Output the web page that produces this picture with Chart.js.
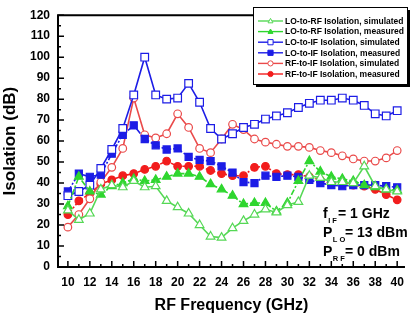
<!DOCTYPE html>
<html>
<head>
<meta charset="utf-8">
<script src="https://cdn.jsdelivr.net/npm/chart.js@4.4.1/dist/chart.umd.min.js"></script>
<style>
  html, body { margin: 0; padding: 0; background: #fff; }
  #wrap { width: 412px; height: 320px; position: relative; }
</style>
</head>
<body>
<div id="wrap"><canvas id="chart"></canvas></div>
<script>
const FREQ = [10,11,12,13,14,15,16,17,18,19,20,21,22,23,24,25,26,27,28,29,30,31,32,33,34,35,36,37,38,39,40];
const X_TICKS = [10,12,14,16,18,20,22,24,26,28,30,32,34,36,38,40];

const LO_RF_SIM  = [27, 22.5, 25.5, 37, 39, 38, 41, 38, 38.5, 31.5, 28.5, 25.5, 20, 14.5, 14, 18.5, 22, 25, 27.5, 26, 29.5, 31, 43.5, 42.5, 40.5, 40.5, 40, 48, 38.5, 37, 36];
const LO_RF_MEAS = [29, 43, 36, 34.5, 38.5, 40, 42, 41, 41.5, 43, 44.5, 44.5, 43, 39.5, 37, 34, 30, 30.5, 30.5, 26.5, 30.5, 41, 50.5, 45.5, 43, 42, 41, 39, 38, 37, 36.5];
const LO_IF_SIM  = [34, 36, 39, 47, 56, 66, 82, 100, 82, 80, 80.5, 87.5, 78.5, 66, 61, 63.5, 66.5, 68, 70.5, 72, 73.5, 76, 78, 79.5, 79.5, 80.5, 79.5, 77, 73, 72, 74.5];
const LO_IF_MEAS = [36, 44.5, 43, 44, 54, 63, 67.5, 61, 58, 56, 56.5, 52.5, 51, 50.5, 48, 45, 40.5, 40, 43.5, 43, 43.5, 43, 41.5, 40, 39, 38.5, 39, 39, 39, 38.5, 38];
const RF_IF_SIM  = [19, 25, 32.5, 40.5, 47.5, 56.5, 80.5, 63, 61.5, 63.5, 73, 66.5, 56.5, 54.5, 61, 68, 65.5, 61, 59.5, 58.5, 57.5, 57.5, 57, 55.5, 54.5, 53, 51.5, 50.5, 50.5, 52, 55.5];
const RF_IF_MEAS = [25, 31.5, 35, 39.5, 41.5, 43.5, 44.5, 46.5, 48, 50.5, 48, 48, 48, 46, 44.5, 43.5, 43.5, 47.5, 48, 44.5, 44, 44, 43, 41.5, 39.5, 40.5, 39, 38.5, 37, 34.5, 32];

const GREEN = '#2fd62f', GREEN_L = '#55d855', BLUE = '#1c1ce6', RED = '#f21d1d', RED_L = '#ea4a4a';
const DASHDOT = [6, 2, 2, 2];

function series(label, vals, color, style, filled, radius, dash) {
  return {
    label,
    data: FREQ.map((f, i) => ({ x: f, y: vals[i] })),
    borderColor: color,
    backgroundColor: filled ? color : '#fff',
    pointBackgroundColor: filled ? color : '#fff',
    pointBorderColor: color,
    pointBorderWidth: 1.2,
    pointStyle: style,
    pointRadius: radius,
    borderWidth: 1.6,
    borderDash: dash || [],
    tension: 0,
    fill: false,
  };
}

const datasets = [
  series('LO-to-RF Isolation, simulated', LO_RF_SIM,  GREEN_L, 'triangle', false, 5),
  series('LO-to-RF Isolation, measured',  LO_RF_MEAS, GREEN,   'triangle', true,  5, DASHDOT),
  series('LO-to-IF Isolation, simulated', LO_IF_SIM,  BLUE,    'rect',     false, 5.4),
  series('LO-to-IF Isolation, measured',  LO_IF_MEAS, BLUE,    'rect',     true,  5, DASHDOT),
  series('RF-to-IF Isolation, simulated', RF_IF_SIM,  RED_L,   'circle',   false, 3.8),
  series('RF-to-IF Isolation, measured',  RF_IF_MEAS, RED,     'circle',   true,  3.8, DASHDOT),
];

function marker(ctx, style, x, y, r, color, filled) {
  ctx.beginPath();
  if (style === 'circle') ctx.arc(x, y, r, 0, Math.PI * 2);
  else if (style === 'rect') ctx.rect(x - r, y - r, 2 * r, 2 * r);
  else { ctx.moveTo(x, y - r); ctx.lineTo(x + r * 0.95, y + r * 0.7); ctx.lineTo(x - r * 0.95, y + r * 0.7); ctx.closePath(); }
  ctx.fillStyle = filled ? color : '#fff';
  ctx.fill();
  ctx.strokeStyle = color; ctx.lineWidth = 1;
  ctx.stroke();
}

const frame = {
  id: 'frame',
  afterDatasetsDraw(chart) {
    const { ctx, chartArea: a, scales: { x, y } } = chart;
    ctx.save();
    ctx.strokeStyle = '#000';
    ctx.lineWidth = 2;
    ctx.beginPath();
    ctx.moveTo(a.right, a.top); ctx.lineTo(a.left, a.top);
    ctx.lineTo(a.left, a.bottom); ctx.lineTo(a.right, a.bottom);
    ctx.stroke();

    // inward tick marks
    ctx.lineWidth = 1.5;
    ctx.beginPath();
    for (let v = 0; v <= 120; v += 5) {
      const p = y.getPixelForValue(v);
      ctx.moveTo(a.left, p); ctx.lineTo(a.left + (v % 10 ? 3 : 6), p);
    }
    for (let f = 10; f <= 40; f++) {
      const p = x.getPixelForValue(f);
      ctx.moveTo(p, a.bottom); ctx.lineTo(p, a.bottom - (f % 2 ? 3 : 6));
    }
    ctx.stroke();

    // legend box with shadow
    const L = { x: 253, y: 7, w: 154, h: 77 };
    ctx.fillStyle = '#000';
    ctx.fillRect(L.x + 3, L.y + 3, L.w, L.h);
    ctx.fillStyle = '#fff';
    ctx.fillRect(L.x, L.y, L.w, L.h);
    ctx.lineWidth = 1;
    ctx.strokeRect(L.x + 0.5, L.y + 0.5, L.w, L.h);
    ctx.font = 'bold 8.5px "Liberation Sans", Arial, sans-serif';
    ctx.textBaseline = 'middle';
    chart.data.datasets.forEach((ds, i) => {
      const yy = 21 + i * 10.6;
      ctx.save();
      ctx.strokeStyle = ds.borderColor; ctx.lineWidth = 1.4;
      ctx.beginPath(); ctx.moveTo(258, yy); ctx.lineTo(283, yy); ctx.stroke();
      ctx.restore();
      marker(ctx, ds.pointStyle, 270.5, yy, 2.6, ds.borderColor, ds.pointBackgroundColor !== '#fff');
      ctx.fillStyle = '#000';
      ctx.fillText(ds.label, 285, yy + 0.5);
    });

    // conditions text
    ctx.textBaseline = 'alphabetic';
    const rows = [['f', 'IF', '= 1 GHz', 218, 338], ['P', 'LO', '= 13 dBm', 237, 345], ['P', 'RF', '= 0 dBm', 256, 345]];
    rows.forEach(([m, s, rest, by, rx]) => {
      ctx.fillStyle = '#000';
      ctx.font = 'bold 14px "Liberation Sans", Arial, sans-serif';
      ctx.fillText(m, 323, by);
      const w = ctx.measureText(m).width;
      ctx.font = 'bold 7.5px "Liberation Sans", Arial, sans-serif';
      ctx.fillText(s.split('').join(' '), 323 + w + 0.5, by + 5);
      ctx.font = 'bold 14px "Liberation Sans", Arial, sans-serif';
      ctx.fillText(rest, rx, by);
    });
    ctx.restore();
  }
};

const FONT = '"Liberation Sans", Arial, sans-serif';

new Chart(document.getElementById('chart'), {
  type: 'line',
  data: { datasets },
  options: {
    responsive: true,
    maintainAspectRatio: false,
    animation: false,
    layout: { padding: { top: 7, right: 0, left: 0, bottom: 0 } },
    plugins: { legend: { display: false }, tooltip: { enabled: false } },
    scales: {
      x: {
        type: 'linear',
        min: 9.1, max: 40.71,
        afterBuildTicks: s => { s.ticks = X_TICKS.map(v => ({ value: v })); },
        afterFit: s => { s.height = 53; },
        grid: { display: false, drawTicks: false },
        border: { display: false },
        ticks: { color: '#000', padding: 8, maxRotation: 0, font: { family: FONT, size: 12, weight: 'bold' } },
        title: { display: true, text: 'RF Frequency (GHz)', color: '#000', padding: { top: 0, bottom: 5 }, font: { family: FONT, size: 16, weight: 'bold' } },
      },
      y: {
        min: 0, max: 120,
        ticks: { stepSize: 10, color: '#000', padding: 8, font: { family: FONT, size: 12, weight: 'bold' } },
        afterFit: s => { s.width = 58; },
        grid: { display: false, drawTicks: false },
        border: { display: false },
        title: { display: true, text: 'Isolation (dB)', color: '#000', padding: { top: 0, bottom: 0 }, font: { family: FONT, size: 17, weight: 'bold' } },
      }
    }
  },
  plugins: [frame]
});
</script>
</body>
</html>
